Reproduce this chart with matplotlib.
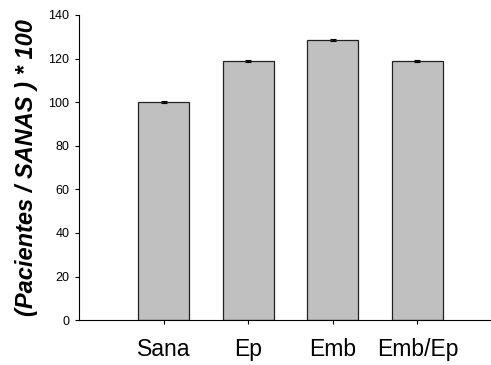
import matplotlib.pyplot as plt
import numpy as np

plt.rcParams['font.family'] = ['Liberation Sans', 'DejaVu Sans']

grupos = ['Sana', 'Ep', 'Emb', 'Emb/Ep']
valores = [100.0, 118.9, 128.5, 118.9]
errores = [0.3, 0.3, 0.5, 0.4]

fig = plt.figure(figsize=(4.91, 3.65), dpi=100)
ax = fig.add_axes([0.161, 0.123, 0.839, 0.836])

x = np.arange(1, len(grupos) + 1)
ax.bar(x, valores, 0.6, color='#c0c0c0', edgecolor='#222222', linewidth=0.9,
       yerr=errores, error_kw=dict(ecolor='black', elinewidth=0.8, capsize=2, capthick=0.8))

ax.set_xlim(0, 4.87)
ax.set_ylim(0, 140)
ax.set_yticks(range(0, 141, 20))
ax.set_xticks(x)
ax.set_xticklabels(grupos, fontsize=16.5)
ax.tick_params(axis='y', labelsize=9, length=3, width=0.8, direction='out', pad=4)
ax.tick_params(axis='x', length=3, width=0.8, direction='out', pad=10)

ax.spines['top'].set_visible(False)
ax.spines['right'].set_visible(False)
ax.spines['left'].set_linewidth(0.8)
ax.spines['bottom'].set_linewidth(0.8)

ax.set_ylabel('(Pacientes / SANAS ) * 100', fontsize=17, fontweight='bold',
              fontstyle='italic')
ax.yaxis.set_label_coords(-0.1, 0.5)

plt.savefig('out.png', dpi=100)
